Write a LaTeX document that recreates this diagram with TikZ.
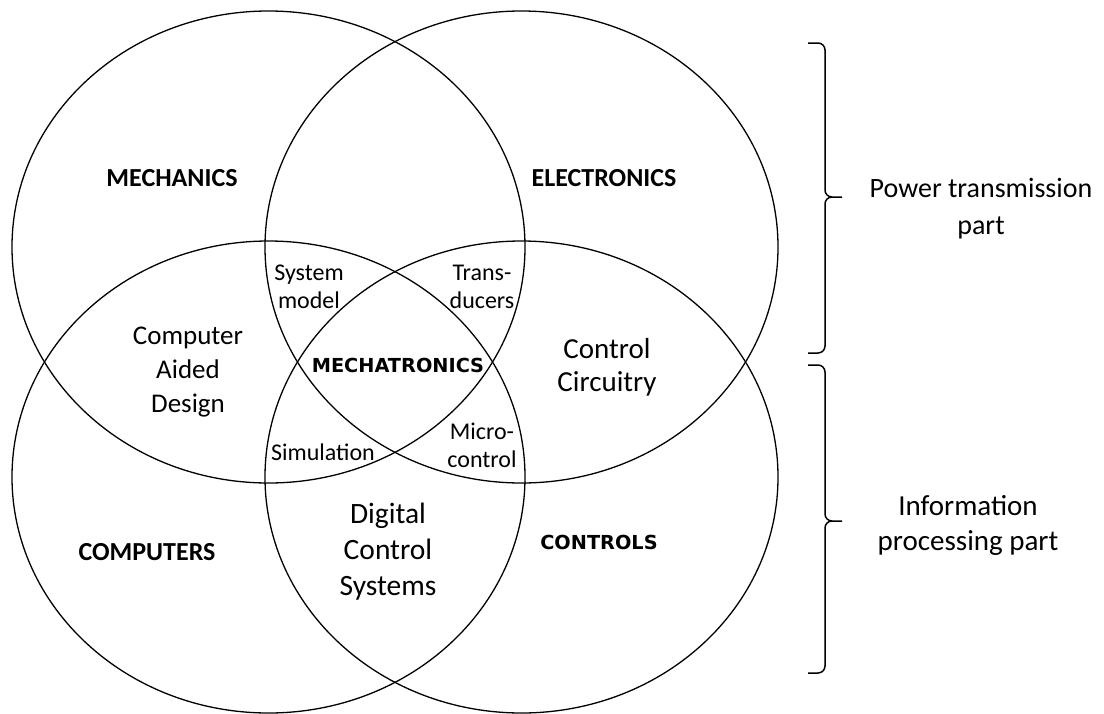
\documentclass[tikz,border=0pt]{standalone}
\usepackage{fontspec}
\setmainfont{Carlito}
\newfontfamily\widefont{DejaVu Sans}
\usetikzlibrary{shapes.geometric, positioning}
\tikzstyle{field}=[draw, ellipse, line width=1.3pt, minimum width=513pt, minimum height=472pt, inner sep=0pt]
\tikzstyle{area}=[font=\fontsize{26}{30}\selectfont\bfseries]
\tikzstyle{core}=[font=\fontsize{19.3}{23}\selectfont\widefont\bfseries]
\tikzstyle{overlap}=[align=center, font=\fontsize{24}{28}\selectfont]
\tikzstyle{topic}=[align=center, font=\fontsize{27}{34}\selectfont]
\tikzstyle{large}=[align=center, font=\fontsize{29.5}{36}\selectfont]
\tikzstyle{part}=[line width=1.5pt, rounded corners=7pt]

\begin{document}
\begin{tikzpicture}[x=1pt, y=-1pt, node distance=253pt, inner sep=0pt]
    \useasboundingbox (0,0) rectangle (1104,713);
    \node[field] (mech) at (268.5,247) {};
    \node[field] (elec) [right of=mech] {};
    \node[field] (comp) [below of=mech, yshift=23pt] {};
    \node[field] (ctrl) [below of=elec, yshift=23pt] {};

    \node[area] (mechlbl) at (172,178) {MECHANICS};
    \node[area] (eleclbl) at (604,178) {ELECTRONICS};
    \node[area] (complbl) at (147,552) {COMPUTERS};
    \node[core] (ctrllbl) at (599,542) {CONTROLS};
    \node[core] (mechatronics) at (398,365) {MECHATRONICS};

    \node[overlap] (sysmodel) at (309,287) {System\\model};
    \node[overlap] (transducers) at (482,287) {Trans-\\ducers};
    \node[overlap] (simulation) at (323,452) {Simulation};
    \node[overlap] (microctrl) at (482,445) {Micro-\\control};
    \node[topic] (cad) at (188,372) {Computer\\Aided\\Design};
    \node[large, font=\fontsize{29}{33}\selectfont] (circuitry) at (607,367) {Control\\Circuitry};
    \node[large] (dcs) at (388,552) {Digital\\Control\\Systems};

    \node[large, font=\fontsize{28}{37}\selectfont] (power) at (981,209) {Power transmission\\part};
    \node[large, font=\fontsize{29}{35}\selectfont] (info) at (968,525) {Information\\processing part};

    \coordinate (pow-top) at (808,43);
    \coordinate (pow-tip) at (842,197);
    \coordinate (pow-bot) at (808,353);
    \coordinate (info-top) at (808,365);
    \coordinate (info-tip) at (842,521);
    \coordinate (info-bot) at (808,673);
    \foreach \p in {pow, info}
        \draw[part] (\p-top) -| ([xshift=-17pt]\p-tip) -- (\p-tip)
            (\p-tip) -- ([xshift=-17pt]\p-tip) |- (\p-bot);
\end{tikzpicture}
\end{document}
